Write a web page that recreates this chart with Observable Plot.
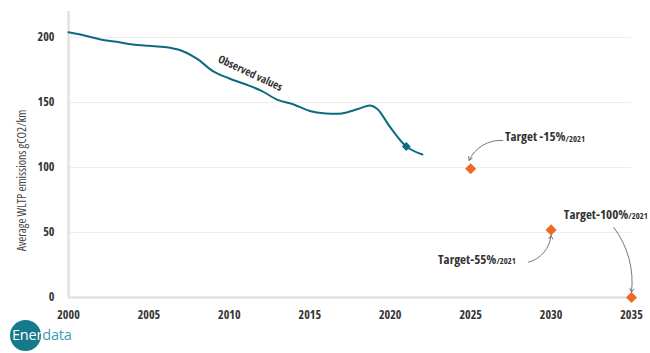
<!DOCTYPE html>
<html>
<head>
<meta charset="utf-8">
<script src="https://cdn.jsdelivr.net/npm/d3@7"></script>
<script src="https://cdn.jsdelivr.net/npm/@observablehq/plot@0.6"></script>
<style>
  html, body { margin: 0; padding: 0; background: #fff; }
  #wrap { position: relative; width: 650px; height: 353px; overflow: hidden; }
  #chart svg text { font-stretch: 75%; }
  #logo { position: absolute; left: 10px; top: 320px; width: 90px; height: 32px; font-family: "Open Sans", sans-serif; font-size: 14.5px; }
  #logo .circle { position: absolute; left: 0; top: 0; width: 31px; height: 31px; border-radius: 50%; background: #17798c; }
  #logo .txt { position: absolute; left: 2px; top: 5px; line-height: 20px; white-space: nowrap; letter-spacing: -0.2px; }
  #logo .a { color: #fff; }
  #logo .b { color: #3a9fb3; }
</style>
</head>
<body>
<div id="wrap">
  <div id="chart"></div>
  <div id="logo"><div class="circle"></div><div class="txt"><span class="a">Ener</span><span class="b">data</span></div></div>
</div>
<script>
// Observed average WLTP emissions (gCO2/km)
const years = [2000, 2001, 2002, 2003, 2004, 2005, 2006, 2007, 2008, 2009, 2010, 2011, 2012, 2013, 2014, 2015, 2016, 2017, 2018, 2018.75, 2019.2, 2020, 2021, 2022];
const emissions = [204, 201.5, 198.5, 196.7, 194.6, 193.6, 192.7, 190, 183.5, 174, 168.5, 164, 159, 152, 148.5, 143.5, 141.6, 141.6, 145, 147.7, 145, 131, 116.2, 110];

// Targets
const targetYears = [2025, 2030, 2035];
const targetValues = [99, 52, 0];
const targetLabels = ["Target -15%", "Target-55%", "Target-100%"];
const targetSuffix = "/2021";

const yTicks = [0, 50, 100, 150, 200];
const xTicks = [2000, 2005, 2010, 2015, 2020, 2025, 2030, 2035];

const observed = years.map((y, i) => ({year: y, value: emissions[i]}));
const targets = targetYears.map((y, i) => ({year: y, value: targetValues[i], label: targetLabels[i]}));

// annotation anchor points (data coordinates)
const labelYears = [2030.9, 2026.6, 2034.8];
const labelValues = [123.3, 29.2, 63.8];
const arrowFrom = [[2027.0, 120.8], [2028.6, 27.2], [2033.9, 53.8]];
const arrowTo = [[2024.9, 105.4], [2030.0, 47.7], [2035.0, 4]];
const arrowBend = [-35, -35, 22];

const FONT = '"Open Sans", sans-serif';

const arrowMarks = arrowFrom.map((f, i) => Plot.arrow([{x1: f[0], y1: f[1], x2: arrowTo[i][0], y2: arrowTo[i][1]}], {
  x1: "x1", y1: "y1", x2: "x2", y2: "y2", bend: arrowBend[i], stroke: "#777", strokeWidth: 1, headLength: 6
}));

const plot = Plot.plot({
  width: 650,
  height: 353,
  marginLeft: 68,
  marginRight: 19,
  marginTop: 11,
  marginBottom: 56,
  style: {fontFamily: FONT, color: "#333", background: "#fff", overflow: "visible"},
  x: {domain: [2000, 2035]},
  y: {domain: [0, 220]},
  marks: [
    Plot.gridY(yTicks.filter(d => d > 0), {stroke: "#eee", strokeOpacity: 1, strokeWidth: 1}),
    Plot.ruleY([0], {stroke: "#e2e2e2", strokeWidth: 2.5}),
    Plot.ruleX([2000], {y1: 0, y2: 220, stroke: "#e2e2e2", strokeWidth: 2.5}),
    Plot.axisY({ticks: yTicks, tickSize: 0, tickPadding: 14, fontSize: 12, fontWeight: "bold", label: null, fill: "#333"}),
    Plot.axisX({ticks: xTicks, tickSize: 0, tickPadding: 13, fontSize: 12, fontWeight: "bold", label: null, tickFormat: d => String(d), fill: "#333"}),
    Plot.text(["Average WLTP emissions gCO2/km"], {frameAnchor: "left", y: 90, dx: -46, rotate: -90, fontSize: 12, fill: "#444", textAnchor: "middle"}),
    Plot.line(observed, {x: "year", y: "value", stroke: "#0d6b80", strokeWidth: 2, curve: "catmull-rom"}),
    Plot.dot([observed.find(d => d.year === 2021)], {x: "year", y: "value", symbol: "diamond2", r: 4, fill: "#0d6b80", stroke: "none"}),
    Plot.text(["Observed values"], {x: 2011.3, y: 172.5, rotate: 25, fontSize: 11, fontWeight: "bold", fill: "#333"}),
    ...arrowMarks,
    Plot.dot(targets, {x: "year", y: "value", symbol: "diamond2", r: 5, fill: "#ee6a24", stroke: "none"}),
    Plot.text(targets, {x: (d, i) => labelYears[i], y: (d, i) => labelValues[i], text: "label", textAnchor: "end", fontSize: 13, fontWeight: "bold", fill: "#333"}),
    Plot.text(targets, {x: (d, i) => labelYears[i], y: (d, i) => labelValues[i], text: d => targetSuffix, textAnchor: "start", dy: 2, fontSize: 8.5, fontWeight: "bold", fill: "#333"})
  ]
});
document.getElementById("chart").appendChild(plot);
</script>
</body>
</html>
